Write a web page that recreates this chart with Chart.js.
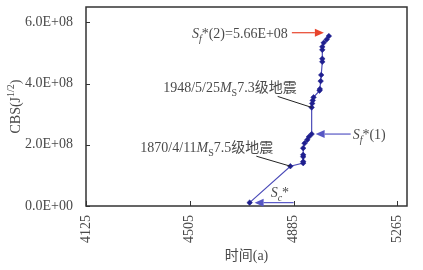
<!DOCTYPE html>
<html>
<head>
<meta charset="utf-8">
<script src="https://cdn.jsdelivr.net/npm/chart.js@4.4.1/dist/chart.umd.min.js"></script>
<style>
  html, body { margin: 0; padding: 0; background: #fff; }
  canvas { display: block; }
</style>
</head>
<body>
<canvas id="cbsChart" width="423" height="270"></canvas>
<script>
// time (a) and cumulative Benioff strain CBS (J^1/2)
var years = [4724, 4873, 4920, 4920, 4920, 4920, 4920, 4925, 4935, 4941, 4951,
             4951, 4953, 4955, 4958, 4980, 4981, 4984, 4986, 4990, 4990, 4990, 4990,
             4995, 5006, 5014];
var cbs = [0.11e8, 1.30e8, 1.40e8, 1.45e8, 1.61e8, 1.67e8, 1.89e8, 2.05e8, 2.16e8, 2.26e8, 2.35e8,
           3.22e8, 3.35e8, 3.45e8, 3.55e8, 3.77e8, 3.82e8, 4.08e8, 4.28e8, 4.71e8, 4.81e8, 5.10e8, 5.20e8,
           5.33e8, 5.44e8, 5.55e8];
var xTicks = [4125, 4505, 4885, 5265];
var yTicks = [0, 2e8, 4e8, 6e8];
var sf2Value = 5.66e8;

var SERIF = '"Liberation Serif", "Times New Roman", "Noto Sans CJK SC", serif';
var textColor = '#4a4a4a';

function sciLabel(v) {
  if (v === 0) return '0.0E+00';
  var e = Math.floor(Math.log10(v));
  var m = v / Math.pow(10, e);
  return m.toFixed(1) + 'E+' + (e < 10 ? '0' + e : e);
}

// parts: [text, style]  style: '' normal, 'i' italic, 'sub', 'isub', 'sup'
function richFont(style, size) {
  var s = size;
  if (style === 'sub' || style === 'isub' || style === 'sup') s = Math.round(size * 0.7);
  var it = (style === 'i' || style === 'isub') ? 'italic ' : '';
  return it + s + 'px ' + SERIF;
}
function richShift(style, size) {
  if (style === 'sub' || style === 'isub') return size * 0.28;
  if (style === 'sup') return -size * 0.4;
  return 0;
}
function drawRich(ctx, parts, x, y, align, size) {
  var total = 0;
  parts.forEach(function (p) {
    ctx.font = richFont(p[1], size);
    total += ctx.measureText(p[0]).width;
  });
  var cx = align === 'right' ? x - total : (align === 'center' ? x - total / 2 : x);
  ctx.textAlign = 'left';
  ctx.textBaseline = 'alphabetic';
  parts.forEach(function (p) {
    ctx.font = richFont(p[1], size);
    ctx.fillText(p[0], cx, y + richShift(p[1], size));
    cx += ctx.measureText(p[0]).width;
  });
}

function arrow(ctx, x1, y1, x2, y2, color) {
  var ang = Math.atan2(y2 - y1, x2 - x1);
  var len = 9, half = 4;
  ctx.strokeStyle = color;
  ctx.fillStyle = color;
  ctx.lineWidth = 1.2;
  ctx.beginPath();
  ctx.moveTo(x1, y1);
  ctx.lineTo(x2 - Math.cos(ang) * len, y2 - Math.sin(ang) * len);
  ctx.stroke();
  ctx.beginPath();
  ctx.moveTo(x2, y2);
  ctx.lineTo(x2 - Math.cos(ang) * len - Math.sin(ang) * half, y2 - Math.sin(ang) * len + Math.cos(ang) * half);
  ctx.lineTo(x2 - Math.cos(ang) * len + Math.sin(ang) * half, y2 - Math.sin(ang) * len - Math.cos(ang) * half);
  ctx.closePath();
  ctx.fill();
}

function leader(ctx, x1, y1, x2, y2) {
  ctx.strokeStyle = '#222';
  ctx.lineWidth = 1;
  ctx.beginPath();
  ctx.moveTo(x1, y1);
  ctx.lineTo(x2, y2);
  ctx.stroke();
}

var decor = {
  id: 'decor',
  afterDraw: function (chart) {
    var ctx = chart.ctx;
    var a = chart.chartArea;
    var xs = chart.scales.x, ys = chart.scales.y;
    ctx.save();

    // frame and inner tick marks
    ctx.strokeStyle = '#333';
    ctx.lineWidth = 1.5;
    ctx.strokeRect(a.left, a.top, a.right - a.left, a.bottom - a.top);
    ctx.lineWidth = 1;
    xTicks.forEach(function (v) {
      var px = Math.round(xs.getPixelForValue(v)) + 0.5;
      ctx.beginPath(); ctx.moveTo(px, a.bottom); ctx.lineTo(px, a.bottom - 5); ctx.stroke();
    });
    yTicks.forEach(function (v) {
      var py = Math.round(ys.getPixelForValue(v)) + 0.5;
      ctx.beginPath(); ctx.moveTo(a.left, py); ctx.lineTo(a.left + 4, py); ctx.stroke();
    });

    var pts = chart.getDatasetMeta(0).data;
    var p0 = pts[0], p1 = pts[1], p10 = pts[10], p11 = pts[11], pl = pts[pts.length - 1];

    // 1870 earthquake
    leader(ctx, p1.x - 34, p1.y - 10, p1.x, p1.y);
    ctx.fillStyle = textColor;
    drawRich(ctx, [['1870/4/11', ''], ['M', 'i'], ['S', 'sub'], ['7.5级地震', '']], p1.x - 17, p1.y - 14, 'right', 14);

    // 1948 earthquake
    leader(ctx, p11.x - 34, p11.y - 11, p11.x, p11.y);
    ctx.fillStyle = textColor;
    drawRich(ctx, [['1948/5/25', ''], ['M', 'i'], ['S', 'sub'], ['7.3级地震', '']], p11.x - 15, p11.y - 15, 'right', 14);

    // Sf*(1)
    arrow(ctx, p10.x + 39, p10.y, p10.x + 4, p10.y, '#5656c4');
    ctx.fillStyle = textColor;
    drawRich(ctx, [['S', 'i'], ['f', 'isub'], ['*(1)', '']], p10.x + 41, p10.y + 5, 'left', 14);

    // Sf*(2)
    var y2 = ys.getPixelForValue(sf2Value);
    arrow(ctx, pl.x - 37, y2, pl.x - 5, y2, '#e8442c');
    ctx.fillStyle = textColor;
    drawRich(ctx, [['S', 'i'], ['f', 'isub'], ['*(2)=5.66E+08', '']], pl.x - 41, y2 + 5, 'right', 14);

    // Sc*
    arrow(ctx, xs.getPixelForValue(4885), p0.y, p0.x + 5, p0.y, '#5656c4');
    ctx.fillStyle = textColor;
    drawRich(ctx, [['S', 'i'], ['c', 'isub'], ['*', '']], p0.x + 21, p0.y - 6, 'left', 14);

    // axis titles
    drawRich(ctx, [['时间(a)', '']], (a.left + a.right) / 2, 260, 'center', 14);
    ctx.translate(20, (a.top + a.bottom) / 2);
    ctx.rotate(-Math.PI / 2);
    drawRich(ctx, [['CBS(J', ''], ['1/2', 'sup'], [')', '']], 0, 0, 'center', 14);

    ctx.restore();
  }
};

new Chart(document.getElementById('cbsChart'), {
  type: 'scatter',
  data: {
    datasets: [{
      label: 'CBS',
      data: years.map(function (t, i) { return { x: t, y: cbs[i] }; }),
      showLine: true,
      borderColor: '#4b4bb8',
      borderWidth: 1.2,
      pointStyle: 'rectRot',
      pointRadius: 2.8,
      pointBackgroundColor: '#1f1f8f',
      pointBorderColor: '#1f1f8f',
      pointBorderWidth: 0.5
    }]
  },
  options: {
    responsive: false,
    animation: false,
    devicePixelRatio: 1,
    layout: { padding: { left: 0, top: 7, right: 16, bottom: 0 } },
    plugins: { legend: { display: false }, tooltip: { enabled: false } },
    scales: {
      x: {
        type: 'linear',
        min: 4125,
        max: 5300,
        afterBuildTicks: function (axis) { axis.ticks = xTicks.map(function (v) { return { value: v }; }); },
        afterFit: function (axis) {
          axis.height = 64;
          axis.paddingLeft = 0;
          axis.paddingRight = 0;
        },
        grid: { display: false, drawTicks: false },
        border: { display: false },
        ticks: {
          minRotation: 90,
          maxRotation: 90,
          padding: 9,
          color: textColor,
          font: { family: SERIF, size: 14 },
          callback: function (v) { return String(v); }
        }
      },
      y: {
        type: 'linear',
        min: 0,
        max: 6.5e8,
        afterBuildTicks: function (axis) { axis.ticks = yTicks.map(function (v) { return { value: v }; }); },
        afterFit: function (axis) {
          axis.width = 86;
          axis.paddingTop = 0;
          axis.paddingBottom = 0;
        },
        grid: { display: false, drawTicks: false },
        border: { display: false },
        ticks: {
          padding: 13,
          color: textColor,
          font: { family: SERIF, size: 14 },
          callback: function (v) { return sciLabel(v); }
        }
      }
    }
  },
  plugins: [decor]
});
</script>
</body>
</html>
